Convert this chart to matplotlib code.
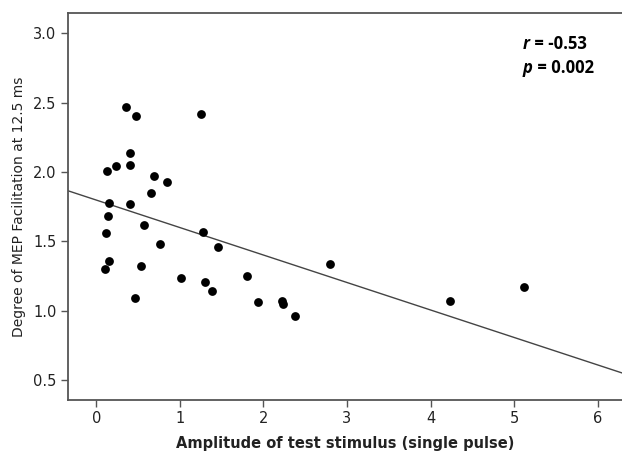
import matplotlib.pyplot as plt
import numpy as np

# amplitude of test stimulus vs. MEP facilitation
amp = [0.36, 0.48, 1.25, 0.41, 0.13, 0.24, 0.40, 0.69, 0.85, 0.65, 0.15, 0.41,
       0.14, 0.57, 0.12, 0.76, 0.15, 0.11, 0.54, 0.46, 1.02, 1.28, 1.46, 1.30,
       1.38, 1.80, 1.94, 2.22, 2.24, 2.38, 2.80, 4.23, 5.12]
facil = [2.47, 2.40, 2.42, 2.14, 2.01, 2.04, 2.05, 1.97, 1.93, 1.85, 1.78, 1.77,
         1.68, 1.62, 1.56, 1.48, 1.36, 1.30, 1.32, 1.09, 1.24, 1.565, 1.46, 1.21,
         1.14, 1.25, 1.06, 1.07, 1.05, 0.96, 1.34, 1.07, 1.17]

# fit line as drawn
fit_intercept = 1.798
fit_slope = -0.198

xticks = [0, 1, 2, 3, 4, 5, 6]
yticks = [0.5, 1.0, 1.5, 2.0, 2.5, 3.0]

fig = plt.figure(figsize=(6.22, 4.55), dpi=100)
ax = fig.add_axes([0.109, 0.121, 0.891, 0.850])

xlim = (-0.34, 6.29)
ax.set_xlim(*xlim)
ax.set_ylim(0.358, 3.144)

xx = np.array(xlim)
ax.plot(xx, fit_intercept + fit_slope * xx, color='#444444', linewidth=1.0, zorder=2)
ax.scatter(amp, facil, s=40, color='black', zorder=3, linewidths=0)

ax.set_xticks(xticks)
ax.set_yticks(yticks)
ax.set_yticklabels(['%.1f' % v for v in yticks])
ax.tick_params(axis='both', direction='out', length=5, width=1, color='#555555',
               labelsize=10.5, labelcolor='#222222', pad=3)

for side in ['left', 'bottom', 'top']:
    ax.spines[side].set_color('#555555')
    ax.spines[side].set_linewidth(1.3)
ax.spines['right'].set_visible(False)

ax.set_xlabel('Amplitude of test stimulus (single pulse)', fontsize=10.5,
              fontweight='bold', color='#222222', labelpad=7)
ax.set_ylabel('Degree of MEP Facilitation at 12.5 ms', fontsize=10,
              color='#222222', labelpad=5)

# statistics annotation
t1 = ax.text(0.821, 0.921, 'r', transform=ax.transAxes, fontsize=12,
             fontweight='bold', style='italic', family='Open Sans', va='center')
ax.annotate(' = -0.53', xy=(1, 0), xycoords=t1, fontsize=12, fontweight='bold',
            family='Open Sans', va='bottom')
t2 = ax.text(0.821, 0.859, 'p', transform=ax.transAxes, fontsize=12,
             fontweight='bold', style='italic', family='Open Sans', va='center')
ax.annotate(' = 0.002', xy=(1, 0), xycoords=t2, fontsize=12, fontweight='bold',
            family='Open Sans', va='bottom')

fig.savefig('out.png', dpi=100)
